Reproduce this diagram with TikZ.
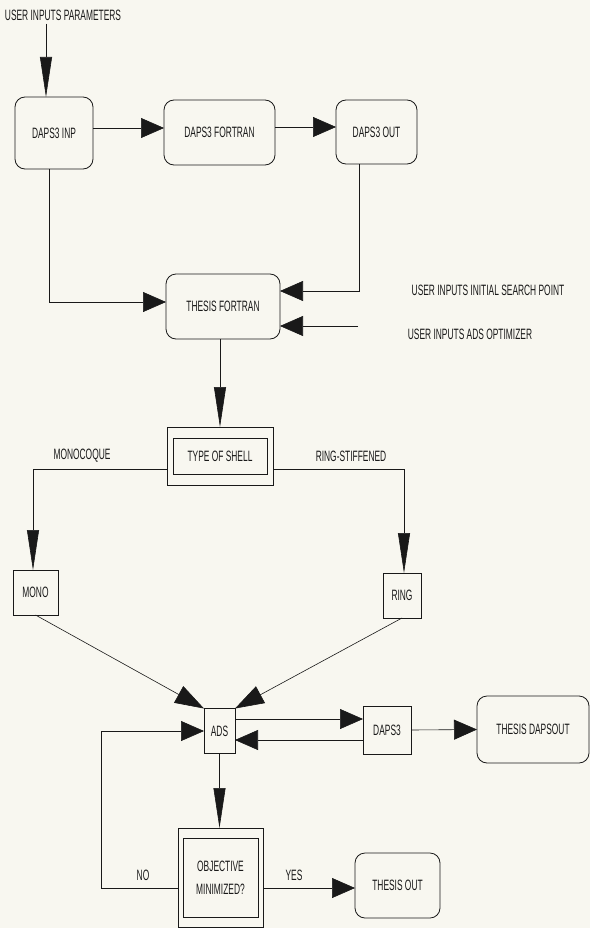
\documentclass[tikz,border=0pt]{standalone}
\usepackage{fontspec}
\newfontfamily\plotfont{Liberation Sans}[FakeStretch=0.56]
\usetikzlibrary{arrows.meta,calc}
\definecolor{paper}{RGB}{248,247,240}
\definecolor{ink}{RGB}{25,25,25}
\tikzset{
  lbl/.style={font=\plotfont\fontsize{15}{23}\selectfont, text=ink, inner sep=0pt, align=center},
  rbox/.style={lbl, draw=ink, line width=0.8pt, rounded corners=10pt, outer sep=0pt},
  sbox/.style={lbl, draw=ink, line width=0.8pt, outer sep=0pt},
  conn/.style={draw=ink, line width=0.6pt},
  harrow/.style={conn, -{Triangle[length=23pt,width=20pt]}},
  varrow/.style={conn, -{Triangle[length=40pt,width=12pt]}},
  darrow/.style={conn, -{Triangle[length=29pt,width=19pt]}}
}
\begin{document}
\begin{tikzpicture}[x=1pt,y=-1pt]
\fill[paper] (0,0) rectangle (590,928);
\useasboundingbox (0,0) rectangle (590,928);

% nodes
\node[lbl] (userpar) at (63,15) {USER INPUTS PARAMETERS};
\node[rbox, minimum width=78pt, minimum height=72pt] (inp) at (54,133) {DAPS3 INP};
\node[rbox, minimum width=111pt, minimum height=65pt] (fort) at (219.5,132.5) {DAPS3 FORTRAN};
\node[rbox, minimum width=81pt, minimum height=64pt] (out) at (376.5,132) {DAPS3 OUT};
\node[rbox, minimum width=114pt, minimum height=65pt] (thesis) at (223,306.5) {THESIS FORTRAN};
\node[lbl] (initial) at (488,290) {USER INPUTS INITIAL SEARCH POINT};
\node[lbl] (adsopt) at (470,334) {USER INPUTS ADS OPTIMIZER};
\coordinate (adsin) at (358,326);

\node[sbox, minimum width=106pt, minimum height=58pt] (shell) at (220,456) {TYPE OF SHELL};
\draw[ink, line width=0.8pt] ($(shell.south west)+(6,-11)$) rectangle ($(shell.north east)+(-6,11)$);
\node[lbl] (monocoque) at (82,456) {MONOCOQUE};
\node[lbl] (ringst) at (351,456) {RING-STIFFENED};

\node[sbox, minimum width=45pt, minimum height=45pt] (mono) at (35.5,592.5) {MONO};
\node[sbox, minimum width=38pt, minimum height=45pt] (ring) at (402,595.5) {RING};

\node[sbox, minimum width=31pt, minimum height=45pt] (ads) at (219.5,731) {ADS};
\node[sbox, minimum width=48pt, minimum height=48pt] (daps) at (387,730) {DAPS3};
\node[rbox, minimum width=112pt, minimum height=67pt] (dapsout) at (533,729.5) {THESIS DAPSOUT};

\node[sbox, minimum width=85pt, minimum height=99pt] (obj) at (220.5,877.5) {OBJECTIVE\\MINIMIZED?};
\draw[ink, line width=0.8pt] ($(obj.south west)+(5,-10)$) rectangle ($(obj.north east)+(-5,10)$);
\node[rbox, minimum width=85pt, minimum height=65pt] (tout) at (397.5,885.5) {THESIS OUT};
\node[lbl] (no) at (143,875) {NO};
\node[lbl] (yes) at (294,875) {YES};

% connectors
\draw[varrow] ($(userpar.south)+(-17,3)$) coordinate (upx) -- (upx |- inp.north);
\draw[harrow] ([yshift=5pt]inp.east) -- ([yshift=5pt]inp.east -| fort.west);
\draw[harrow] ([yshift=5.5pt]fort.east) -- ([yshift=5.5pt]fort.east -| out.west);
\draw[harrow] ([xshift=-5pt]inp.south) |- ([yshift=4.5pt]thesis.west);
\draw[harrow] ([xshift=-17.5pt]out.south) |- ([yshift=15.5pt]thesis.east);
\draw[harrow] (adsin) -- (adsin -| thesis.east);
\draw[varrow] (thesis.south -| shell.north) -- (shell.north);
\draw[varrow] ([yshift=-13pt]shell.west) -| ([xshift=-2.5pt]mono.north);
\draw[varrow] ([yshift=-13pt]shell.east) -| ([xshift=2pt]ring.north);
\draw[darrow] (mono.south) -- (ads.north west);
\draw[darrow] (ring.south) -- (ads.north east);
\draw[harrow] ([yshift=12pt]ads.east) -- ([yshift=12pt]ads.east -| daps.west);
\draw[harrow] ([yshift=-10pt]daps.west) -- ([yshift=-10pt]daps.west -| ads.east);
\draw[harrow] (daps.east) -- (dapsout.west);
\draw[varrow] (ads.south) -- (ads.south |- obj.north);
\draw[harrow] ([yshift=-10.5pt]obj.west) -- ++(-77,0) |- (ads.west);
\draw[harrow] ([yshift=-10.5pt]obj.east) -- ([yshift=-10.5pt]obj.east -| tout.west);
\end{tikzpicture}
\end{document}
